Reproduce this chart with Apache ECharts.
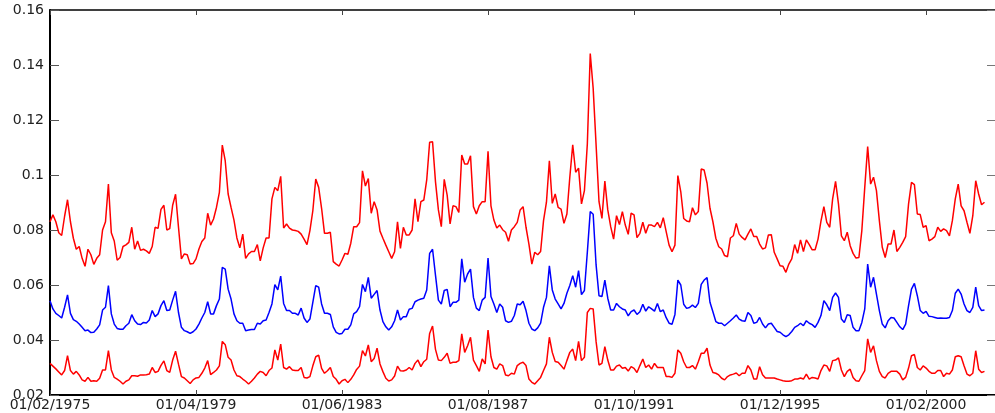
<!DOCTYPE html>
<html>
<head>
<meta charset="utf-8">
<script src="https://cdn.jsdelivr.net/npm/echarts@6/dist/echarts.min.js"></script>
<style>
html,body{margin:0;padding:0;background:#fff;}
#chart{width:995px;height:413px;}
</style>
</head>
<body>
<div id="chart"></div>
<script>
// Monthly observations starting 01/02/1975 (index 0 = Feb 1975)
const xTickLabels = ['01/02/1975','01/04/1979','01/06/1983','01/08/1987','01/10/1991','01/12/1995','01/02/2000'];
const yTickLabels = ['0.02','0.04','0.06','0.08','0.1','0.12','0.14','0.16'];

const upperRed = [
0.0830,0.0855,0.0830,0.0790,0.0780,0.0850,0.0910,0.0830,0.0770,0.0730,0.0740,0.0697,0.0668,0.0730,0.0710,0.0675,0.0697,0.0710,0.0800,0.0830,0.0967,0.0790,0.0760,0.0690,0.0700,0.0740,0.0746,0.0755,0.0810,0.0730,0.0760,0.0726,0.0730,0.0724,0.0715,0.0740,0.0810,0.0806,0.0875,0.0890,0.0800,0.0805,0.0890,0.0930,0.0810,0.0695,
0.0713,0.0710,0.0676,0.0678,0.0695,0.0731,0.0758,0.0771,0.0861,0.0818,0.0840,0.0882,0.0937,0.1109,0.1052,0.0931,0.0882,0.0836,0.0771,0.0735,0.0785,0.0697,0.0713,0.0722,0.0722,0.0747,0.0688,0.0735,0.0771,0.0771,0.0913,0.0955,0.0943,0.0995,0.0807,0.0822,0.0807,0.0800,0.0798,0.0795,0.0785,0.0767,0.0747,0.0798,0.0870,0.0985,
0.0955,0.0879,0.0788,0.0788,0.0792,0.0685,0.0676,0.0669,0.0691,0.0715,0.0712,0.0752,0.0812,0.0812,0.0827,0.1015,0.0960,0.0987,0.0861,0.0903,0.0873,0.0796,0.0770,0.0745,0.0721,0.0697,0.0721,0.0830,0.0733,0.0810,0.0782,0.0782,0.0800,0.0913,0.0830,0.0903,0.0909,0.0982,0.1119,0.1121,0.0976,0.0873,0.0812,0.0984,0.0927,0.0822,
0.0888,0.0885,0.0864,0.1073,0.1040,0.1040,0.1070,0.0885,0.0858,0.0888,0.0903,0.0903,0.1086,0.0888,0.0836,0.0807,0.0818,0.0801,0.0792,0.0759,0.0800,0.0812,0.0828,0.0873,0.0885,0.0810,0.0749,0.0676,0.0719,0.0710,0.0722,0.0834,0.0901,0.1052,0.0897,0.0931,0.0882,0.0876,0.0824,0.0858,0.0992,0.1110,0.1010,0.1025,0.0895,0.0943,0.1113,
0.1442,0.1315,0.1109,0.0903,0.0842,0.0978,0.0873,0.0812,0.0767,0.0852,0.0820,0.0867,0.0818,0.0784,0.0861,0.0855,0.0772,0.0788,0.0828,0.0788,0.0818,0.0818,0.0812,0.0828,0.0808,0.0845,0.0794,0.0745,0.0721,0.0745,0.0998,0.0939,0.0842,0.0833,0.0830,0.0881,0.0855,0.0867,0.1022,0.1018,0.0970,0.0879,0.0830,0.0770,0.0739,0.0731,
0.0707,0.0703,0.0771,0.0779,0.0824,0.0785,0.0773,0.0764,0.0785,0.0804,0.0776,0.0776,0.0749,0.0731,0.0735,0.0782,0.0783,0.0719,0.0695,0.0670,0.0668,0.0646,0.0676,0.0695,0.0747,0.0715,0.0764,0.0722,0.0764,0.0747,0.0728,0.0728,0.0767,0.0832,0.0885,0.0828,0.0810,0.0913,0.0977,0.0895,0.0779,0.0761,0.0792,0.0743,0.0715,0.0698,
0.0700,0.0798,0.0955,0.1103,0.0967,0.0992,0.0943,0.0834,0.0737,0.0700,0.0749,0.0749,0.0800,0.0722,0.0737,0.0755,0.0776,0.0895,0.0973,0.0965,0.0858,0.0856,0.0810,0.0816,0.0761,0.0767,0.0776,0.0810,0.0795,0.0804,0.0798,0.0779,0.0834,0.0913,0.0967,0.0888,0.0870,0.0828,0.0788,0.0852,0.0979,0.0931,0.0892,0.0901
];

const middleBlue = [
0.0543,0.0513,0.0497,0.0489,0.0480,0.0519,0.0564,0.0497,0.0474,0.0468,0.0458,0.0446,0.0434,0.0436,0.0427,0.0428,0.0440,0.0455,0.0509,0.0519,0.0598,0.0495,0.0458,0.0442,0.0439,0.0439,0.0452,0.0461,0.0492,0.0470,0.0458,0.0456,0.0464,0.0462,0.0473,0.0507,0.0485,0.0495,0.0525,0.0543,0.0507,0.0509,0.0545,0.0577,0.0500,0.0446,
0.0434,0.0430,0.0424,0.0430,0.0440,0.0458,0.0480,0.0500,0.0539,0.0495,0.0495,0.0525,0.0549,0.0664,0.0658,0.0585,0.0549,0.0495,0.0470,0.0461,0.0461,0.0434,0.0436,0.0438,0.0438,0.0461,0.0458,0.0470,0.0473,0.0500,0.0531,0.0601,0.0582,0.0632,0.0533,0.0507,0.0507,0.0497,0.0497,0.0491,0.0516,0.0480,0.0464,0.0476,0.0537,0.0598,
0.0592,0.0531,0.0497,0.0497,0.0493,0.0448,0.0428,0.0422,0.0424,0.0439,0.0439,0.0455,0.0495,0.0503,0.0521,0.0602,0.0576,0.0628,0.0552,0.0566,0.0580,0.0509,0.0467,0.0448,0.0436,0.0448,0.0470,0.0509,0.0473,0.0485,0.0485,0.0512,0.0515,0.0539,0.0545,0.0549,0.0552,0.0582,0.0715,0.0730,0.0636,0.0545,0.0531,0.0580,0.0584,0.0521,
0.0537,0.0537,0.0545,0.0695,0.0610,0.0640,0.0658,0.0555,0.0516,0.0507,0.0545,0.0555,0.0698,0.0558,0.0531,0.0500,0.0531,0.0519,0.0470,0.0464,0.0468,0.0489,0.0531,0.0528,0.0541,0.0507,0.0461,0.0440,0.0434,0.0444,0.0461,0.0519,0.0555,0.0670,0.0582,0.0549,0.0531,0.0513,0.0533,0.0570,0.0598,0.0634,0.0592,0.0652,0.0565,0.0580,0.0719,
0.0867,0.0857,0.0673,0.0561,0.0558,0.0618,0.0552,0.0509,0.0509,0.0533,0.0521,0.0513,0.0509,0.0488,0.0503,0.0509,0.0493,0.0503,0.0530,0.0505,0.0521,0.0513,0.0505,0.0533,0.0503,0.0509,0.0481,0.0461,0.0457,0.0493,0.0618,0.0600,0.0530,0.0515,0.0518,0.0527,0.0518,0.0533,0.0602,0.0618,0.0627,0.0537,0.0503,0.0467,0.0461,0.0461,
0.0452,0.0461,0.0470,0.0480,0.0491,0.0476,0.0470,0.0468,0.0500,0.0489,0.0461,0.0464,0.0482,0.0458,0.0444,0.0458,0.0461,0.0446,0.0431,0.0428,0.0419,0.0412,0.0419,0.0431,0.0446,0.0452,0.0461,0.0452,0.0470,0.0461,0.0456,0.0446,0.0464,0.0489,0.0543,0.0528,0.0507,0.0555,0.0571,0.0555,0.0476,0.0464,0.0492,0.0489,0.0446,0.0434,
0.0434,0.0464,0.0513,0.0676,0.0592,0.0628,0.0567,0.0507,0.0458,0.0444,0.0470,0.0482,0.0480,0.0464,0.0448,0.0438,0.0458,0.0525,0.0585,0.0606,0.0561,0.0507,0.0497,0.0504,0.0486,0.0485,0.0482,0.0479,0.0480,0.0479,0.0479,0.0482,0.0507,0.0570,0.0585,0.0567,0.0531,0.0507,0.0500,0.0519,0.0592,0.0525,0.0507,0.0509
];

const lowerRed = [
0.0315,0.0305,0.0295,0.0284,0.0273,0.0289,0.0343,0.0289,0.0276,0.0286,0.0273,0.0255,0.0250,0.0264,0.0250,0.0252,0.0250,0.0261,0.0291,0.0291,0.0361,0.0291,0.0264,0.0258,0.0250,0.0240,0.0250,0.0255,0.0270,0.0270,0.0268,0.0273,0.0273,0.0274,0.0276,0.0300,0.0282,0.0286,0.0308,0.0324,0.0289,0.0282,0.0327,0.0359,0.0312,0.0267,
0.0262,0.0252,0.0242,0.0255,0.0262,0.0264,0.0279,0.0298,0.0325,0.0274,0.0282,0.0291,0.0306,0.0395,0.0383,0.0337,0.0327,0.0291,0.0270,0.0267,0.0258,0.0250,0.0240,0.0250,0.0262,0.0276,0.0286,0.0282,0.0270,0.0289,0.0298,0.0364,0.0327,0.0385,0.0300,0.0294,0.0303,0.0291,0.0289,0.0289,0.0300,0.0264,0.0262,0.0267,0.0306,0.0339,
0.0345,0.0297,0.0279,0.0288,0.0300,0.0267,0.0257,0.0240,0.0252,0.0257,0.0245,0.0257,0.0273,0.0293,0.0305,0.0361,0.0342,0.0382,0.0321,0.0333,0.0370,0.0313,0.0285,0.0261,0.0251,0.0255,0.0269,0.0305,0.0288,0.0287,0.0291,0.0300,0.0291,0.0315,0.0327,0.0303,0.0321,0.0330,0.0424,0.0451,0.0366,0.0327,0.0325,0.0337,0.0352,0.0315,
0.0319,0.0319,0.0325,0.0422,0.0355,0.0379,0.0410,0.0327,0.0307,0.0286,0.0331,0.0313,0.0436,0.0339,0.0300,0.0294,0.0313,0.0307,0.0273,0.0270,0.0279,0.0276,0.0307,0.0315,0.0319,0.0307,0.0258,0.0246,0.0240,0.0252,0.0264,0.0289,0.0313,0.0410,0.0355,0.0322,0.0319,0.0307,0.0294,0.0325,0.0355,0.0367,0.0325,0.0395,0.0325,0.0337,0.0500,
0.0515,0.0513,0.0394,0.0309,0.0315,0.0376,0.0327,0.0291,0.0291,0.0305,0.0309,0.0297,0.0300,0.0287,0.0303,0.0297,0.0282,0.0307,0.0331,0.0300,0.0309,0.0294,0.0315,0.0300,0.0300,0.0300,0.0267,0.0267,0.0264,0.0279,0.0364,0.0352,0.0321,0.0300,0.0300,0.0307,0.0294,0.0321,0.0352,0.0352,0.0370,0.0309,0.0282,0.0279,0.0273,0.0261,
0.0255,0.0267,0.0273,0.0276,0.0280,0.0270,0.0279,0.0279,0.0307,0.0291,0.0258,0.0258,0.0303,0.0274,0.0262,0.0262,0.0262,0.0262,0.0258,0.0255,0.0252,0.0250,0.0250,0.0252,0.0258,0.0258,0.0262,0.0258,0.0276,0.0258,0.0264,0.0262,0.0258,0.0289,0.0309,0.0306,0.0286,0.0325,0.0327,0.0335,0.0291,0.0267,0.0286,0.0294,0.0264,0.0252,
0.0250,0.0270,0.0289,0.0404,0.0355,0.0379,0.0325,0.0286,0.0267,0.0262,0.0279,0.0286,0.0286,0.0286,0.0276,0.0255,0.0264,0.0298,0.0343,0.0347,0.0300,0.0291,0.0306,0.0298,0.0286,0.0279,0.0279,0.0289,0.0289,0.0267,0.0279,0.0276,0.0291,0.0339,0.0343,0.0339,0.0306,0.0276,0.0270,0.0279,0.0361,0.0294,0.0282,0.0286
];

const toPairs = arr => arr.map((v, i) => [i, v]);

const chart = echarts.init(document.getElementById('chart'), null, {renderer: 'canvas'});
const FONT = 'DejaVu Sans';
const X_MAX = 323.6;

chart.setOption({
  animation: false,
  backgroundColor: '#ffffff',
  grid: {left: 50, right: 0, top: 10, bottom: 18, containLabel: false},
  xAxis: [
    {
      type: 'value', min: 0, max: X_MAX, interval: 50, position: 'bottom',
      axisLine: {show: true, onZero: false, lineStyle: {color: '#000', width: 2}},
      axisTick: {show: true, inside: true, length: 5, lineStyle: {color: '#444', width: 1}},
      splitLine: {show: false},
      axisLabel: {
        show: true, margin: 3, color: '#222', fontFamily: FONT, fontSize: 14,
        showMaxLabel: false,
        formatter: v => (Math.abs(v % 50) < 1e-6 ? (xTickLabels[Math.round(v / 50)] || '') : '')
      }
    },
    {
      type: 'value', min: 0, max: X_MAX, interval: 50, position: 'top',
      axisLine: {show: true, onZero: false, lineStyle: {color: '#000', width: 1.5}},
      axisTick: {show: true, inside: true, length: 5, lineStyle: {color: '#444', width: 1}},
      splitLine: {show: false},
      axisLabel: {show: false}
    }
  ],
  yAxis: [
    {
      type: 'value', min: 0.02, max: 0.16, interval: 0.02, position: 'left',
      axisLine: {show: true, onZero: false, lineStyle: {color: '#000', width: 2}},
      axisTick: {show: true, inside: true, length: 9, lineStyle: {color: '#555', width: 1}},
      splitLine: {show: false},
      axisLabel: {
        show: true, margin: 6, color: '#222', fontFamily: FONT, fontSize: 14,
        formatter: v => yTickLabels[Math.round((v - 0.02) / 0.02)] || ''
      }
    },
    {
      type: 'value', min: 0.02, max: 0.16, interval: 0.02, position: 'right',
      axisLine: {show: false, onZero: false},
      axisTick: {show: true, inside: true, length: 8, lineStyle: {color: '#777', width: 1}},
      splitLine: {show: false},
      axisLabel: {show: false}
    }
  ],
  series: [
    {type: 'line', data: toPairs(upperRed), xAxisIndex: 0, yAxisIndex: 0, showSymbol: false, symbol: 'none',
     lineStyle: {color: '#ff0000', width: 1.5}, itemStyle: {color: '#ff0000'}},
    {type: 'line', data: toPairs(middleBlue), xAxisIndex: 0, yAxisIndex: 0, showSymbol: false, symbol: 'none',
     lineStyle: {color: '#0000ff', width: 1.5}, itemStyle: {color: '#0000ff'}},
    {type: 'line', data: toPairs(lowerRed), xAxisIndex: 0, yAxisIndex: 0, showSymbol: false, symbol: 'none',
     lineStyle: {color: '#ff0000', width: 1.5}, itemStyle: {color: '#ff0000'}}
  ]
});
</script>
</body>
</html>
